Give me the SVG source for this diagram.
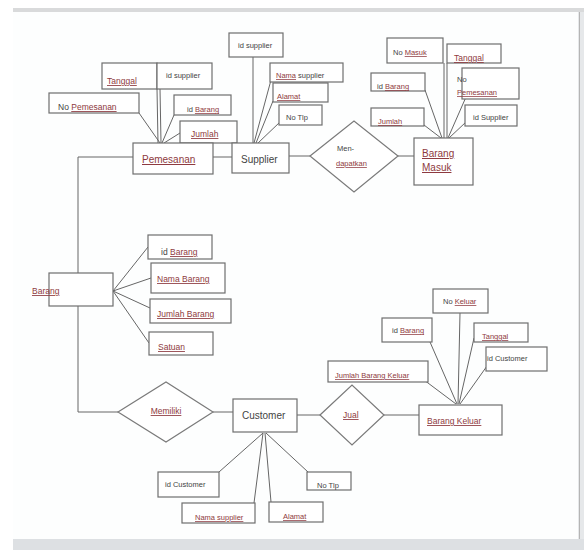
<svg xmlns="http://www.w3.org/2000/svg" width="584" height="550" viewBox="0 0 584 550">
<style>
.bx{fill:#fff;stroke:#6e6e6e;stroke-width:1.2}
.dm{fill:#fff;stroke:#7a7a7a;stroke-width:1.2}
.ln{stroke:#666;stroke-width:1;fill:none}
text{font-family:"Liberation Sans",Arial,sans-serif;fill:#444}
.a{font-size:7.5px}
.b{font-size:8.5px}
.e{font-size:10px}
.r{fill:#8e3a40;text-decoration:underline}
</style>
<rect x="0" y="0" width="584" height="550" fill="#fff"/>
<rect x="13" y="8" width="571" height="4" fill="#d9dadb"/>
<rect x="578" y="12" width="6" height="527" fill="#e6e8ea"/>
<line x1="579.5" y1="12" x2="579.5" y2="539" stroke="#b5b5b5" stroke-width="1"/>
<rect x="13" y="539" width="571" height="11" fill="#dde0e3"/>
<rect x="13" y="12" width="565" height="527" fill="#fdfefe"/>

<g id="connectors" class="ln">
<!-- Barang spine -->
<polyline points="133,157 78,157 78,412 118,412"/>
<!-- Pemesanan attributes -->
<line x1="139" y1="113" x2="160" y2="143"/>
<line x1="157" y1="89" x2="158" y2="143"/>
<line x1="160" y1="89" x2="161" y2="143"/>
<line x1="174" y1="115" x2="162" y2="143"/>
<line x1="180" y1="133" x2="164" y2="143"/>
<line x1="213" y1="157" x2="232" y2="157"/>
<!-- Supplier attributes -->
<line x1="253" y1="57" x2="253" y2="143"/>
<line x1="271" y1="80" x2="254" y2="143"/>
<line x1="273" y1="101" x2="256" y2="143"/>
<line x1="280" y1="122" x2="258" y2="143"/>
<line x1="289" y1="156" x2="310" y2="156"/>
<line x1="398" y1="156" x2="414" y2="156"/>
<!-- Barang Masuk attributes -->
<line x1="444" y1="63" x2="444" y2="138"/>
<line x1="447" y1="63" x2="447" y2="138"/>
<line x1="425" y1="90" x2="442" y2="138"/>
<line x1="424" y1="125" x2="441" y2="138"/>
<line x1="466" y1="97" x2="448" y2="138"/>
<line x1="466" y1="122" x2="449" y2="138"/>
<!-- Barang attributes -->
<line x1="113" y1="291" x2="148" y2="247"/>
<line x1="113" y1="291" x2="151" y2="278"/>
<line x1="113" y1="291" x2="150" y2="308"/>
<line x1="113" y1="291" x2="149" y2="343"/>
<!-- Bottom chain -->
<line x1="213" y1="412" x2="233" y2="412"/>
<line x1="297" y1="415" x2="320" y2="415"/>
<line x1="384" y1="415" x2="419" y2="415"/>
<!-- Barang Keluar attributes -->
<line x1="424" y1="380" x2="456" y2="404"/>
<line x1="430" y1="342" x2="457" y2="404"/>
<line x1="460" y1="313" x2="458" y2="404"/>
<line x1="474" y1="338" x2="459" y2="404"/>
<line x1="487" y1="366" x2="460" y2="404"/>
<!-- Customer attributes -->
<line x1="263" y1="433" x2="219" y2="472"/>
<line x1="263" y1="433" x2="254" y2="503"/>
<line x1="265" y1="433" x2="271" y2="502"/>
<line x1="266" y1="433" x2="308" y2="472"/>
</g>

<g id="attr-pem-tanggal"><rect class="bx" x="102" y="63" width="55" height="26"/><text class="b" x="107" y="84"><tspan class="r">Tanggal</tspan></text></g>
<g id="attr-pem-idsupplier"><rect class="bx" x="157" y="63" width="55" height="26"/><text class="a" x="166" y="78">id supplier</text></g>
<g id="attr-pem-nopemesanan"><rect class="bx" x="49" y="93" width="90" height="20"/><text class="b" x="58" y="110">No <tspan class="r">Pemesanan</tspan></text></g>
<g id="attr-pem-idbarang"><rect class="bx" x="174" y="95" width="57" height="20"/><text class="a" x="187" y="112">id <tspan class="r">Barang</tspan></text></g>
<g id="attr-pem-jumlah"><rect class="bx" x="180" y="121" width="57" height="22"/><text class="b" x="191" y="137"><tspan class="r">Jumlah</tspan></text></g>
<g id="pemesanan"><rect class="bx" x="133" y="143" width="80" height="31"/><text class="e" x="142" y="163"><tspan class="r">Pemesanan</tspan></text></g>

<g id="supplier"><rect class="bx" x="232" y="143" width="57" height="30"/><text class="e" x="241" y="163">Supplier</text></g>
<g id="attr-sup-id"><rect class="bx" x="229" y="33" width="54" height="24"/><text class="a" x="238" y="48">id supplier</text></g>
<g id="attr-sup-nama"><rect class="bx" x="270" y="63" width="73" height="19"/><text class="a" x="276" y="78"><tspan class="r">Nama</tspan> supplier</text></g>
<g id="attr-sup-alamat"><rect class="bx" x="273" y="83" width="55" height="19"/><text class="a" x="277" y="99"><tspan class="r">Alamat</tspan></text></g>
<g id="attr-sup-notlp"><rect class="bx" x="279" y="105" width="43" height="20"/><text class="a" x="286" y="120">No Tlp</text></g>

<g id="mendapatkan"><polygon class="dm" points="310,156 354,121 398,156 354,192"/><text class="a" x="337" y="151">Men-</text><text class="a" x="336" y="166"><tspan class="r">dapatkan</tspan></text></g>

<g id="barang-masuk"><rect class="bx" x="414" y="138" width="59" height="47"/><text class="e" x="422" y="157"><tspan class="r">Barang</tspan></text><text class="e" x="422" y="171"><tspan class="r">Masuk</tspan></text></g>
<g id="attr-bm-nomasuk"><rect class="bx" x="387" y="38" width="56" height="25"/><text class="a" x="393" y="55">No <tspan class="r">Masuk</tspan></text></g>
<g id="attr-bm-tanggal"><rect class="bx" x="447" y="44" width="54" height="19"/><text class="b" x="454" y="61"><tspan class="r">Tanggal</tspan></text></g>
<g id="attr-bm-nopemesanan"><rect class="bx" x="462" y="68" width="57" height="31"/><text class="a" x="457" y="82">No</text><text class="a" x="457" y="95"><tspan class="r">Pemesanan</tspan></text></g>
<g id="attr-bm-idbarang"><rect class="bx" x="371" y="73" width="54" height="18"/><text class="a" x="377" y="89">id <tspan class="r">Barang</tspan></text></g>
<g id="attr-bm-jumlah"><rect class="bx" x="371" y="108" width="53" height="18"/><text class="a" x="378" y="124"><tspan class="r">Jumlah</tspan></text></g>
<g id="attr-bm-idsupplier"><rect class="bx" x="465" y="105" width="52" height="21"/><text class="a" x="473" y="120">id Supplier</text></g>

<g id="barang"><rect class="bx" x="49" y="273" width="64" height="33"/><text class="b" x="32" y="294"><tspan class="r">Barang</tspan></text></g>
<g id="attr-b-idbarang"><rect class="bx" x="148" y="235" width="64" height="24"/><text class="b" x="161" y="255">id <tspan class="r">Barang</tspan></text></g>
<g id="attr-b-nama"><rect class="bx" x="151" y="263" width="74" height="30"/><text class="b" x="157" y="282"><tspan class="r">Nama Barang</tspan></text></g>
<g id="attr-b-jumlah"><rect class="bx" x="150" y="299" width="81" height="24"/><text class="b" x="157" y="317"><tspan class="r">Jumlah Barang</tspan></text></g>
<g id="attr-b-satuan"><rect class="bx" x="149" y="332" width="64" height="23"/><text class="b" x="158" y="350"><tspan class="r">Satuan</tspan></text></g>

<g id="memiliki"><polygon class="dm" points="118,412 166,382 213,412 166,442"/><text class="b" x="166" y="414" text-anchor="middle"><tspan class="r">Memiliki</tspan></text></g>
<g id="customer"><rect class="bx" x="233" y="399" width="64" height="33"/><text class="e" x="242" y="419">Customer</text></g>
<g id="jual"><polygon class="dm" points="320,415 352,385 384,415 352,445"/><text class="b" x="343" y="418"><tspan class="r">Jual</tspan></text></g>
<g id="barang-keluar"><rect class="bx" x="419" y="405" width="83" height="30"/><text class="b" x="427" y="424"><tspan class="r">Barang Keluar</tspan></text></g>

<g id="attr-bk-jumlah"><rect class="bx" x="328" y="361" width="100" height="21"/><text class="a" x="335" y="378"><tspan class="r">Jumlah Barang Keluar</tspan></text></g>
<g id="attr-bk-idbarang"><rect class="bx" x="382" y="318" width="50" height="24"/><text class="a" x="392" y="333">id <tspan class="r">Barang</tspan></text></g>
<g id="attr-bk-nokeluar"><rect class="bx" x="433" y="289" width="55" height="24"/><text class="a" x="443" y="304">No <tspan class="r">Keluar</tspan></text></g>
<g id="attr-bk-tanggal"><rect class="bx" x="474" y="323" width="54" height="19"/><text class="a" x="482" y="339"><tspan class="r">Tanggal</tspan></text></g>
<g id="attr-bk-idcustomer"><rect class="bx" x="486" y="347" width="61" height="24"/><text class="a" x="487" y="361">id Customer</text></g>

<g id="attr-c-id"><rect class="bx" x="158" y="472" width="61" height="25"/><text class="a" x="165" y="487">id Customer</text></g>
<g id="attr-c-nama"><rect class="bx" x="182" y="503" width="73" height="20"/><text class="a" x="195" y="520"><tspan class="r">Nama supplier</tspan></text></g>
<g id="attr-c-alamat"><rect class="bx" x="269" y="502" width="54" height="20"/><text class="a" x="283" y="519"><tspan class="r">Alamat</tspan></text></g>
<g id="attr-c-notlp"><rect class="bx" x="307" y="472" width="44" height="18"/><text class="a" x="317" y="488">No Tlp</text></g>
</svg>
